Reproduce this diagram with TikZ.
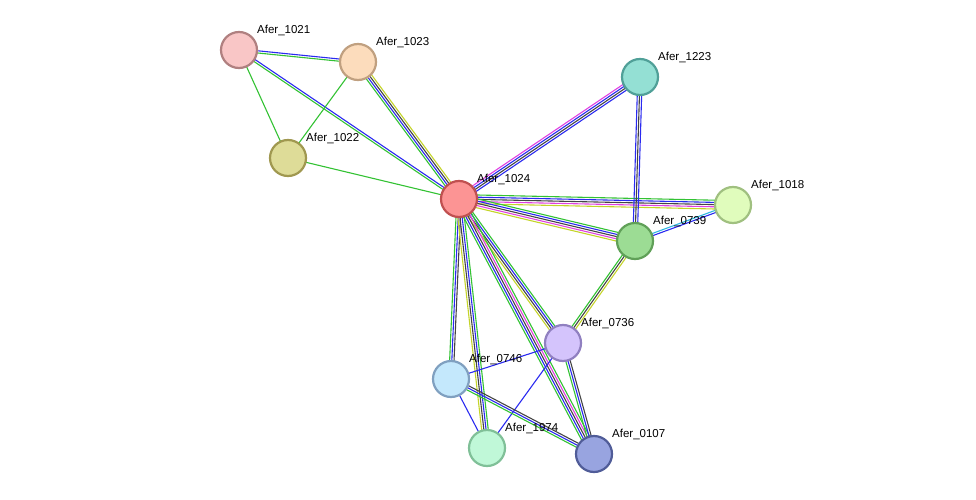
\documentclass[tikz,border=0pt]{standalone}
\usepackage{fontspec}
\setmainfont{Liberation Sans}
\usetikzlibrary{calc}
\definecolor{eg}{HTML}{33C233}
\definecolor{eb}{HTML}{2A2AF0}
\definecolor{ek}{HTML}{444444}
\definecolor{ey}{HTML}{C4D42A}
\definecolor{em}{HTML}{E040E0}
\definecolor{ec}{HTML}{30B8E0}
\tikzset{prot/.style={circle,minimum size=36pt,inner sep=0pt,line width=2.2pt},
 lab/.style={anchor=south west,inner sep=0pt,font=\fontsize{11.5}{13}\selectfont}}
\newcommand\medge[3]{%
 \foreach \c [count=\i] in {#3} {\xdef\nlines{\i}}%
 \foreach \c [count=\i] in {#3} {%
  \pgfmathsetmacro\off{(\i-(\nlines+1)/2)*2.2}%
  \draw[\c,line width=1.1pt] ($(#1)!\off pt!90:(#2)$) -- ($(#2)!\off pt!-90:(#1)$);}}
\begin{document}
\begin{tikzpicture}[x=1pt,y=-1pt]
\useasboundingbox (0,0) rectangle (976,500);
\coordinate (c1021) at (239,50);
\coordinate (c1023) at (358,62);
\coordinate (c1022) at (288,158);
\coordinate (c1024) at (459,199);
\coordinate (c1223) at (640,77);
\coordinate (c1018) at (733,205);
\coordinate (c0739) at (635,241);
\coordinate (c0736) at (563,343);
\coordinate (c0746) at (451,379);
\coordinate (c1974) at (487,448);
\coordinate (c0107) at (594,454);
\medge{c1021}{c1023}{eg,eb}
\medge{c1021}{c1024}{eg,eb}
\medge{c1021}{c1022}{eg}
\medge{c1023}{c1022}{eg}
\medge{c1023}{c1024}{eg,eb,ek,ey}
\medge{c1022}{c1024}{eg}
\medge{c1024}{c1223}{eb,ek,eb,em}
\medge{c1024}{c1018}{ey,em,ek,eb,eg}
\medge{c1024}{c0739}{ey,em,ek,eb,eg}
\medge{c1223}{c0739}{eb,ek,eb}
\medge{c0739}{c1018}{eb,ec}
\medge{c0739}{c0736}{eg,ek,ey}
\medge{c1024}{c0736}{ey,ek,eb,eg}
\medge{c1024}{c0107}{eg,eb,ek,em,eg}
\medge{c1024}{c0746}{eg,eb,ek}
\medge{c1024}{c1974}{ey,ek,eb,eg}
\medge{c0736}{c0107}{eg,eb,ek}
\medge{c0736}{c0746}{eb}
\medge{c0736}{c1974}{eb}
\medge{c0746}{c1974}{eb}
\medge{c0746}{c0107}{eg,eb,ek}
\node[prot,fill={rgb,255:red,249;green,198;blue,198},draw={rgb,255:red,176;green,128;blue,128}] (n1021) at (c1021) {};
\node[prot,fill={rgb,255:red,252;green,220;blue,188},draw={rgb,255:red,192;green,160;blue,128}] (n1023) at (c1023) {};
\node[prot,fill={rgb,255:red,222;green,220;blue,152},draw={rgb,255:red,160;green,152;blue,80}] (n1022) at (c1022) {};
\node[prot,fill={rgb,255:red,252;green,148;blue,148},draw={rgb,255:red,192;green,80;blue,80}] (n1024) at (c1024) {};
\node[prot,fill={rgb,255:red,148;green,224;blue,212},draw={rgb,255:red,80;green,160;blue,152}] (n1223) at (c1223) {};
\node[prot,fill={rgb,255:red,224;green,252;blue,188},draw={rgb,255:red,160;green,192;blue,128}] (n1018) at (c1018) {};
\node[prot,fill={rgb,255:red,156;green,220;blue,148},draw={rgb,255:red,96;green,160;blue,88}] (n0739) at (c0739) {};
\node[prot,fill={rgb,255:red,212;green,196;blue,252},draw={rgb,255:red,144;green,128;blue,192}] (n0736) at (c0736) {};
\node[prot,fill={rgb,255:red,196;green,232;blue,252},draw={rgb,255:red,128;green,160;blue,192}] (n0746) at (c0746) {};
\node[prot,fill={rgb,255:red,192;green,248;blue,216},draw={rgb,255:red,128;green,192;blue,152}] (n1974) at (c1974) {};
\node[prot,fill={rgb,255:red,152;green,164;blue,224},draw={rgb,255:red,80;green,92;blue,152}] (n0107) at (c0107) {};
\foreach \n in {1021,1023,1022,1024,1223,1018,0739,0736,0746,1974,0107}
  \node[lab] (l\n) at ($(c\n)+(18,-14)$) {Afer\_\n};
\end{tikzpicture}
\end{document}
